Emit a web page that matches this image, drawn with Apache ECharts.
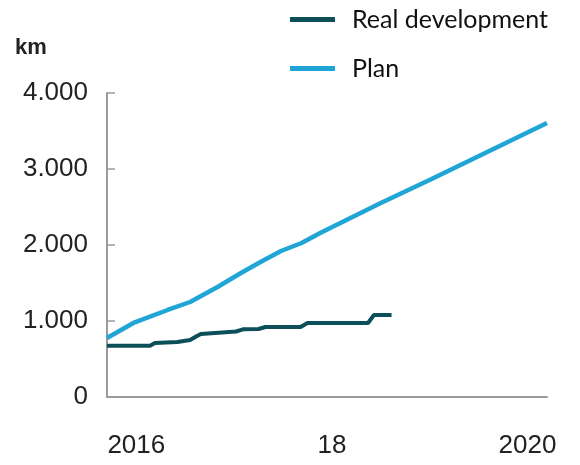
<!DOCTYPE html>
<html>
<head>
<meta charset="utf-8">
<script src="https://cdn.jsdelivr.net/npm/echarts@6/dist/echarts.min.js"></script>
<style>
  html, body { margin: 0; padding: 0; background: #ffffff; }
  #chart { width: 580px; height: 465px; }
</style>
</head>
<body>
<div id="chart"></div>
<script>
// Network length in km, by year (fractional years along the x axis)
const realYears = [2015.70, 2016.14, 2016.19, 2016.42, 2016.55, 2016.62, 2016.66, 2017.02, 2017.09, 2017.25, 2017.32, 2017.68, 2017.75, 2018.37, 2018.43, 2018.61];
const realKm    = [675, 675, 711, 724, 750, 803, 829, 862, 890, 895, 921, 921, 974, 974, 1079, 1079];

const planYears = [2015.70, 2015.97, 2016.32, 2016.55, 2016.83, 2017.07, 2017.27, 2017.48, 2017.69, 2017.88, 2018.50, 2019.02, 2020.20];
const planKm    = [776, 974, 1145, 1250, 1447, 1632, 1776, 1921, 2026, 2158, 2553, 2868, 3605];

const xTickValues = [2016, 2018, 2020];
const xTickLabels = ['2016', '18', '2020'];
const yTickValues = [0, 1000, 2000, 3000, 4000];
const yTickLabels = ['0', '1.000', '2.000', '3.000', '4.000'];

const seriesNames = ['Real development', 'Plan'];
const realColor = '#0d4f59';
const planColor = '#1fa5d6';

const zip = (xs, ys) => xs.map((x, i) => [x, ys[i]]);

const chart = echarts.init(document.getElementById('chart'), null, { renderer: 'canvas' });
chart.setOption({
  animation: false,
  backgroundColor: '#ffffff',
  title: {
    text: 'km',
    left: 10,
    top: 32,
    textStyle: { fontFamily: 'Liberation Sans', fontWeight: 'bold', fontSize: 22, color: '#222' }
  },
  legend: {
    orient: 'vertical',
    left: 285,
    top: 2,
    itemGap: 24,
    itemWidth: 45,
    itemHeight: 5,
    icon: 'rect',
    data: seriesNames,
    textStyle: { fontFamily: 'Lato', fontSize: 25, color: '#111', padding: [0, 0, 0, 12] }
  },
  grid: {
    left: 107,
    right: 33,
    top: 93,
    bottom: 68,
    outerBoundsMode: 'none'
  },
  xAxis: {
    type: 'value',
    min: 2015.7,
    max: 2020.2,
    axisLine: { show: true, lineStyle: { color: '#9a9a9a', width: 2 } },
    axisTick: { show: false },
    splitLine: { show: false },
    axisLabel: {
      customValues: xTickValues,
      formatter: v => xTickLabels[xTickValues.indexOf(v)],
      margin: 36,
      fontFamily: 'Liberation Sans',
      fontSize: 26,
      color: '#222'
    }
  },
  yAxis: {
    type: 'value',
    min: 0,
    max: 4000,
    interval: 1000,
    axisLine: { show: true, lineStyle: { color: '#9a9a9a', width: 2 } },
    axisTick: { show: true, inside: true, length: 8, lineStyle: { color: '#9a9a9a', width: 1.5 } },
    splitLine: { show: false },
    axisLabel: {
      formatter: v => yTickLabels[yTickValues.indexOf(v)],
      margin: 19,
      fontFamily: 'Liberation Sans',
      fontSize: 26,
      color: '#222'
    }
  },
  series: [
    {
      name: seriesNames[0],
      type: 'line',
      data: zip(realYears, realKm),
      showSymbol: false,
      lineStyle: { color: realColor, width: 4 },
      itemStyle: { color: realColor },
      z: 3
    },
    {
      name: seriesNames[1],
      type: 'line',
      data: zip(planYears, planKm),
      showSymbol: false,
      lineStyle: { color: planColor, width: 4.5 },
      itemStyle: { color: planColor },
      z: 2
    }
  ]
});
</script>
</body>
</html>
